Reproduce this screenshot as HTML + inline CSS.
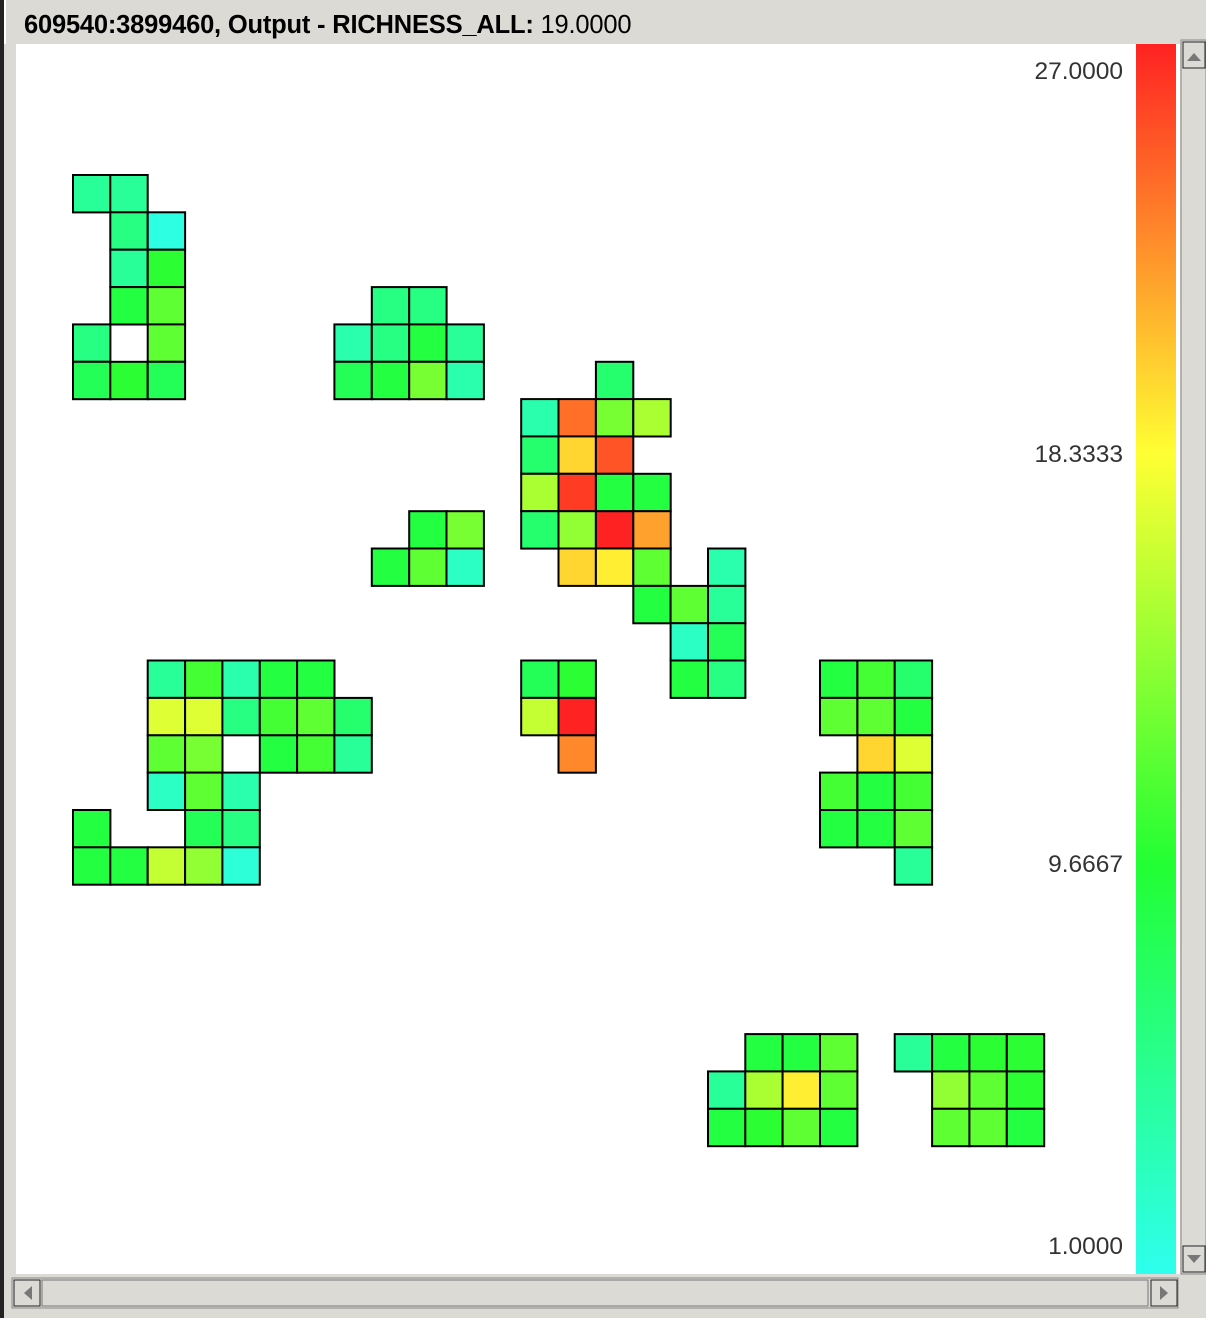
<!DOCTYPE html>
<html><head><meta charset="utf-8"><style>
body{margin:0;width:1206px;height:1318px;background:#dcdad5;position:relative;overflow:hidden;font-family:"Liberation Sans",sans-serif}
#frame{position:absolute;left:0;top:0;width:4px;height:1318px;background:#222}
#title{position:absolute;left:24px;top:11px;font-size:25.5px;color:#000;letter-spacing:-0.2px}
#plot{position:absolute;left:16px;top:44px;width:1164px;height:1230px;background:#fff}
</style></head><body>
<div id="frame"></div>
<div id="title"><b>609540:3899460, Output - RICHNESS_ALL:</b> 19.0000</div>
<div id="plot"></div>
<svg id="svg" width="1206" height="1318" style="position:absolute;left:0;top:0">
<defs><linearGradient id="cg" x1="0" y1="1" x2="0" y2="0">
<stop offset="0" stop-color="#2effee"/><stop offset="0.3333" stop-color="#22ff33"/><stop offset="0.6667" stop-color="#ffff33"/><stop offset="1" stop-color="#ff2222"/></linearGradient></defs>
<rect x="1136" y="44" width="40" height="1230" fill="url(#cg)"/>
<g id="cells"></g><g id="ticks"></g>
<rect x="1181" y="40" width="25" height="1234" fill="#dcdad5" stroke="#888"/>
<rect x="1183" y="42" width="22" height="26" fill="#dcdad5" stroke="#222"/>
<polygon points="1187,61 1201,61 1194,53" fill="#777"/>
<rect x="1183" y="1246" width="22" height="26" fill="#dcdad5" stroke="#222"/>
<polygon points="1187,1255 1201,1255 1194,1263" fill="#777"/>
<rect x="12" y="1278" width="1166" height="30" fill="#dcdad5" stroke="#888"/>
<rect x="14" y="1280" width="26" height="26" fill="#dcdad5" stroke="#222"/>
<polygon points="32,1286 32,1300 24,1293" fill="#777"/>
<rect x="42" y="1280" width="1106" height="26" fill="#dcdad5" stroke="#777"/>
<rect x="1151" y="1280" width="26" height="26" fill="#dcdad5" stroke="#222"/>
<polygon points="1160,1286 1160,1300 1168,1293" fill="#777"/>
</svg>
<script>
const cellCols=[0,1,1,2,1,2,1,2,0,2,0,1,2,
8,9,7,8,9,10,7,8,9,10,
14,12,13,14,15,12,13,14,12,13,14,15,12,13,14,15,13,14,15,17,15,16,17,16,17,16,17,
9,10,8,9,10,
2,3,4,5,6,2,3,4,5,6,7,2,3,5,6,7,2,3,4,0,3,4,0,1,2,3,4,
12,13,12,13,13,
20,21,22,20,21,22,21,22,20,21,22,20,21,22,22,
18,19,20,22,23,24,25,17,18,19,20,23,24,25,17,18,19,20,23,24,25];
const cellRows=[0,0,1,1,2,2,3,3,4,4,5,5,5,
3,3,4,4,4,4,5,5,5,5,
5,6,6,6,6,7,7,7,8,8,8,8,9,9,9,9,10,10,10,10,11,11,11,12,12,13,13,
9,9,10,10,10,
13,13,13,13,13,14,14,14,14,14,14,15,15,15,15,15,16,16,16,17,17,17,18,18,18,18,18,
13,13,14,14,15,
13,13,13,14,14,14,15,15,16,16,16,17,17,17,18,
23,23,23,23,23,23,23,24,24,24,24,24,24,24,25,25,25,25,25,25,25];
const cellValues=[5,5,6,1.5,5,10,9,12,6,12,8,10,8,
6,6,4,6,9,5,8,9,13,4,
7,4,24,13,15,7,20,25,15,26,9,9,7,14,27,22,20,19,12,4,9,12,5,3,8,9,6,
9,13,9,12,3,
5,11,4,9,9,17,17,6,11,12,7,12,13,9,11,5,3,12,4,9,8,6,9,9,16,14,2,
8,10,16,27,23,
9,11,7,12,12,9,20,17,11,9,11,9,9,12,5,
9,9,12,5,9,10,10,5,15,19,12,14,12,10,9,10,12,9,12,12,9];
const tickValues=[27,18.3333,9.6667,1];
const tickLabels=["27.0000","18.3333","9.6667","1.0000"];
const vmin=1,vmax=27;
const X0=73,Y0=175,CW=37.35,CH=37.35;
function xs(c){return X0+c*CW}
function ys(r){return Y0+r*CH}
const stops=[[0,[46,255,238]],[1/3,[34,255,51]],[2/3,[255,255,51]],[1,[255,34,34]]];
function color(v){let t=(v-vmin)/(vmax-vmin);t=Math.max(0,Math.min(1,t));
for(let i=1;i<stops.length;i++){if(t<=stops[i][0]){const a=stops[i-1],b=stops[i];const f=(t-a[0])/(b[0]-a[0]);
return 'rgb('+a[1].map((c,k)=>Math.round(c+(b[1][k]-c)*f)).join(',')+')';}}return 'rgb(255,34,34)';}
const NS='http://www.w3.org/2000/svg';
const g=document.getElementById('cells');
for(let i=0;i<cellValues.length;i++){
const r=document.createElementNS(NS,'rect');
r.setAttribute('x',xs(cellCols[i]).toFixed(1));r.setAttribute('y',ys(cellRows[i]).toFixed(1));
r.setAttribute('width',CW.toFixed(1));r.setAttribute('height',CH.toFixed(1));
r.setAttribute('fill',color(cellValues[i]));r.setAttribute('stroke','#000');r.setAttribute('stroke-width','2');


g.appendChild(r);}
const tg=document.getElementById('ticks');
tickValues.forEach((v,i)=>{const t=document.createElementNS(NS,'text');
t.setAttribute('x',1123);t.setAttribute('y',(1274-(v-vmin)/(vmax-vmin)*1230+(i===0?35:i===3?-20:8)).toFixed(1));
t.setAttribute('text-anchor','end');t.setAttribute('font-size','24.5');t.setAttribute('fill','#333');
t.setAttribute('font-family','Liberation Sans, sans-serif');t.textContent=tickLabels[i];


tg.appendChild(t);});
</script>
<div style="position:absolute;left:4px;top:0;width:2px;height:44px;background:#fff"></div>
</body></html>
